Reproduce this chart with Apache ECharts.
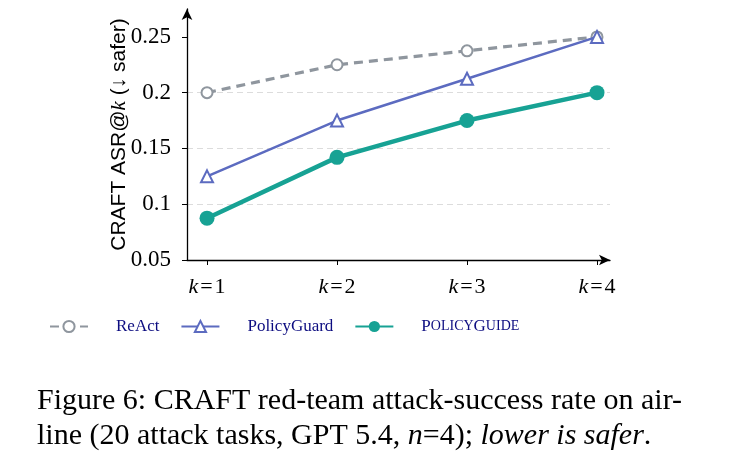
<!DOCTYPE html>
<html>
<head>
<meta charset="utf-8">
<script src="https://cdn.jsdelivr.net/npm/echarts@6/dist/echarts.min.js"></script>
<style>
  html, body { margin: 0; padding: 0; background: #fff; }
  #chart { width: 733px; height: 469px; }
</style>
</head>
<body>
<div id="chart"></div>
<script>
// k values on the x axis
const kValues = [1, 2, 3, 4];
const yTicks = [0.05, 0.1, 0.15, 0.2, 0.25];

// ASR@k per method
const reactAsr = [0.2, 0.225, 0.2375, 0.25];
const policyGuardAsr = [0.125, 0.175, 0.2125, 0.25];
const policyGuideAsr = [0.0875, 0.142, 0.175, 0.2];

const seriesNames = ["ReAct", "PolicyGuard", "PolicyGuide"];

const serif = "'Liberation Serif', 'DejaVu Serif', serif";
const sans = "'Liberation Sans', Arial, sans-serif";
const legendColor = "#0c0c80";

function pairs(vals) {
  return kValues.map(function (k, i) { return [k, vals[i]]; });
}

let chart = echarts.init(document.getElementById("chart"));

let option = {
  backgroundColor: "#fff",
  animation: false,
  title: {
    left: 37,
    top: 384,
    padding: 0,
    text: "Figure 6: CRAFT red-team attack-success rate on air-\nline (20 attack tasks, GPT 5.4, {it|n}=4); {it|lower is safer}.",
    textStyle: {
      fontFamily: serif,
      fontSize: 30,
      fontWeight: "normal",
      color: "#000",
      lineHeight: 35,
      rich: {
        it: { fontFamily: serif, fontSize: 30, fontStyle: "italic", color: "#000", lineHeight: 35 }
      }
    }
  },
  legend: {
    left: 49,
    top: 318,
    padding: 0,
    itemWidth: 38,
    itemHeight: 14,
    itemGap: 21,
    data: seriesNames,
    formatter: function (name) {
      if (name === "PolicyGuide") {
        return "{b|P}{s|OLICY}{g|G}{s|UIDE}";
      }
      return "{t|" + name + "}";
    },
    textStyle: {
      rich: {
        t: { fontFamily: serif, fontSize: 17, color: legendColor, padding: [0, 0, 0, 23] },
        b: { fontFamily: serif, fontSize: 17, color: legendColor, padding: [0, 0, 0, 23] },
        g: { fontFamily: serif, fontSize: 17, color: legendColor },
        s: { fontFamily: serif, fontSize: 14, color: legendColor }
      }
    }
  },
  grid: {
    left: 187,
    right: 123,
    top: 9,
    bottom: 209
  },
  xAxis: {
    type: "value",
    min: 0.846,
    max: 4.1,
    splitLine: { show: false },
    axisLine: {
      show: true,
      lineStyle: { color: "#000", width: 1.3 },
      symbol: ["none", "arrow"],
      symbolSize: [8, 11]
    },
    axisTick: {
      show: true,
      customValues: kValues,
      length: 5,
      lineStyle: { color: "#000" }
    },
    axisLabel: {
      customValues: kValues,
      margin: 16,
      formatter: function (v) { return "{i|k}{e|=}{n|" + v + "}"; },
      rich: {
        i: { fontFamily: serif, fontSize: 22, fontStyle: "italic", color: "#000" },
        e: { fontFamily: serif, fontSize: 22, color: "#000", padding: [0, 2] },
        n: { fontFamily: serif, fontSize: 22, color: "#000" }
      }
    }
  },
  yAxis: {
    type: "value",
    min: 0.05,
    max: 0.275,
    interval: 0.05,
    name: "{a|CRAFT ASR@}{k|k}{a| (↓ safer)}",
    nameLocation: "middle",
    nameRotate: 90,
    nameGap: 57,
    nameMoveOverlap: false,
    nameTextStyle: {
      rich: {
        a: { fontFamily: sans, fontSize: 21, color: "#000" },
        k: { fontFamily: serif, fontSize: 21, fontStyle: "italic", color: "#000" }
      }
    },
    axisLine: {
      show: true,
      lineStyle: { color: "#000", width: 1.3 },
      symbol: ["none", "arrow"],
      symbolSize: [8, 11]
    },
    axisTick: {
      show: true,
      customValues: yTicks,
      length: 5,
      lineStyle: { color: "#000" }
    },
    axisLabel: {
      customValues: yTicks,
      margin: 16,
      fontFamily: serif,
      fontSize: 23,
      color: "#000"
    },
    splitLine: {
      show: true,
      showMinLine: false,
      showMaxLine: false,
      lineStyle: { color: "#dcdcdc", type: [6, 4], width: 1 }
    }
  },
  series: [
    {
      name: "ReAct",
      type: "line",
      data: pairs(reactAsr),
      symbol: "emptyCircle",
      symbolSize: 11,
      itemStyle: { color: "#8f969e", borderWidth: 2 },
      lineStyle: { color: "#8f969e", width: 3.2, type: [9, 6] },
      z: 2
    },
    {
      name: "PolicyGuard",
      type: "line",
      data: pairs(policyGuardAsr),
      symbol: "emptyTriangle",
      symbolSize: 12,
      itemStyle: { color: "#5c6bc0", borderWidth: 2 },
      lineStyle: { color: "#5c6bc0", width: 2.5 },
      z: 3
    },
    {
      name: "PolicyGuide",
      type: "line",
      data: pairs(policyGuideAsr),
      symbol: "circle",
      symbolSize: 15,
      itemStyle: { color: "#17a294" },
      lineStyle: { color: "#17a294", width: 4.5 },
      z: 4
    }
  ]
};

chart.setOption(option);

window.addEventListener("resize", function () {
  chart.resize();
});
</script>
</body>
</html>
